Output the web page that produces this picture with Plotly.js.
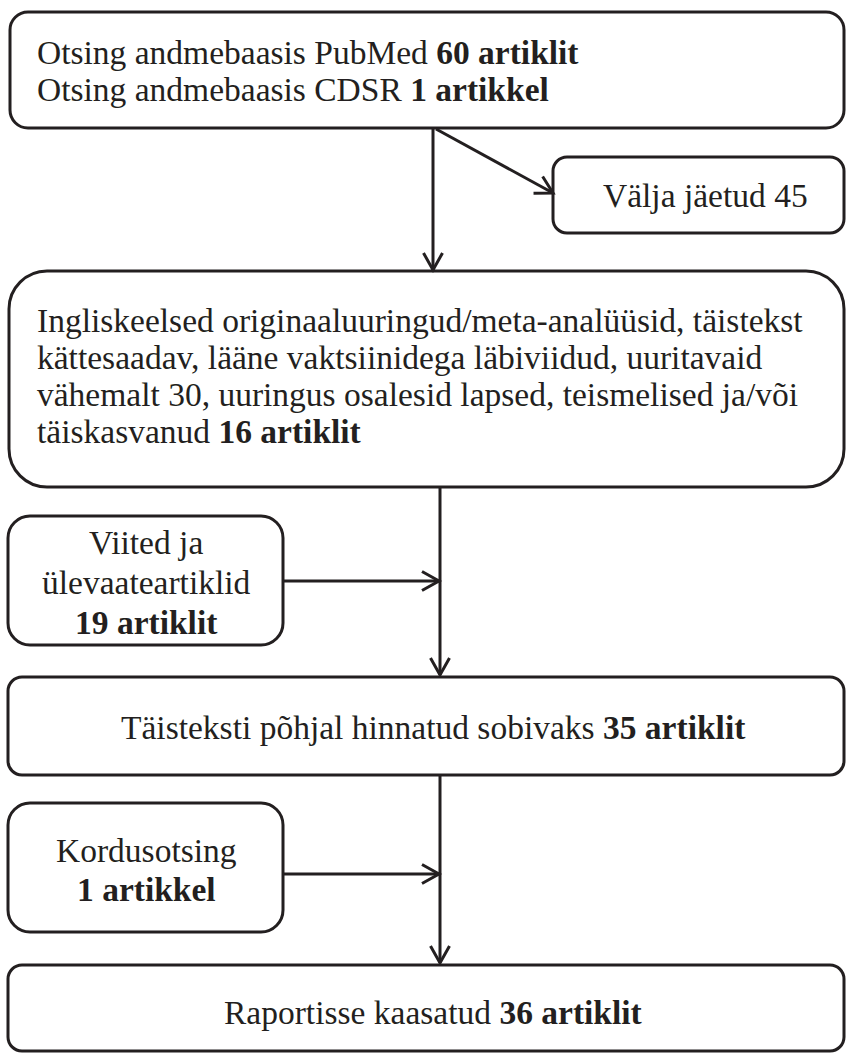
<!DOCTYPE html>
<html>
<head>
<meta charset="utf-8">
<script src="https://cdn.plot.ly/plotly-3.0.1.min.js"></script>
<style>html,body{margin:0;padding:0;background:#fff;}#chart{width:846px;height:1054px;}</style>
</head>
<body>
<div id="chart"></div>
<script>
// ---- data (texts and counts) ----
const searchLabels = ["Otsing andmebaasis PubMed", "Otsing andmebaasis CDSR"];
const searchCounts = [60, 1];
const excludedLabel = "Välja jäetud";
const excludedCount = 45;
const criteriaLines = [
  "Ingliskeelsed originaaluuringud/meta-analüüsid, täistekst",
  "kättesaadav, lääne vaktsiinidega läbiviidud, uuritavaid",
  "vähemalt 30, uuringus osalesid lapsed, teismelised ja/või",
  "täiskasvanud"
];
const criteriaCount = 16;
const referencesLines = ["Viited ja", "ülevaateartiklid"];
const referencesCount = 19;
const fulltextLabel = "Täisteksti põhjal hinnatud sobivaks";
const fulltextCount = 35;
const repeatLabel = "Kordusotsing";
const repeatCount = 1;
const finalLabel = "Raportisse kaasatud";
const finalCount = 36;

// ---- layout geometry (pixels, y downward) ----
const INK = "#231f20";
const FS = 33.5;
const FONT = "'Liberation Serif', 'Times New Roman', Times, 'DejaVu Serif', serif";
const LW = 3;

function unit(n) { return n === 1 ? "artikkel" : "artiklit"; }
function boldCount(n) { return "<b>" + n + " " + unit(n) + "</b>"; }

const boxes = [
  {x0: 10, x1: 844, y0: 12,  y1: 128, r: 18},   // search
  {x0: 553, x1: 844, y0: 157, y1: 233, r: 14},  // excluded
  {x0: 9,  x1: 844, y0: 271, y1: 487, r: 38},   // criteria
  {x0: 8,  x1: 283, y0: 516, y1: 645, r: 22},   // references
  {x0: 8,  x1: 844, y0: 677, y1: 775, r: 14},   // full text
  {x0: 8,  x1: 283, y0: 803, y1: 932, r: 22},   // repeat search
  {x0: 8,  x1: 844, y0: 965, y1: 1051, r: 14}   // final
];

const arrows = [
  [433, 128, 433, 270],
  [436, 129, 553, 193],
  [440, 487, 440, 675],
  [283, 581, 439, 581],
  [440, 775, 440, 963],
  [283, 874, 439, 874]
];

function roundRect(b) {
  const k = 0.5523 * b.r, r = b.r;
  const {x0, x1, y0, y1} = b;
  return `M${x0 + r},${y0} L${x1 - r},${y0} C${x1 - r + k},${y0} ${x1},${y0 + r - k} ${x1},${y0 + r} ` +
         `L${x1},${y1 - r} C${x1},${y1 - r + k} ${x1 - r + k},${y1} ${x1 - r},${y1} ` +
         `L${x0 + r},${y1} C${x0 + r - k},${y1} ${x0},${y1 - r + k} ${x0},${y1 - r} ` +
         `L${x0},${y0 + r} C${x0},${y0 + r - k} ${x0 + r - k},${y0} ${x0 + r},${y0} Z`;
}

const shapes = [];
boxes.forEach(b => shapes.push({
  type: "path", xref: "x", yref: "y", path: roundRect(b),
  line: {color: INK, width: LW}, fillcolor: "rgba(0,0,0,0)"
}));
arrows.forEach(a => {
  const [xa, ya, xb, yb] = a;
  shapes.push({type: "line", xref: "x", yref: "y", x0: xa, y0: ya, x1: xb, y1: yb,
    line: {color: INK, width: LW}});
  const dx = xb - xa, dy = yb - ya, L = Math.hypot(dx, dy);
  const ux = dx / L, uy = dy / L, nx = -uy, ny = ux;
  const hl = 17, hw = 9.5;
  const w1x = xb - hl * ux + hw * nx, w1y = yb - hl * uy + hw * ny;
  const w2x = xb - hl * ux - hw * nx, w2y = yb - hl * uy - hw * ny;
  shapes.push({type: "path", xref: "x", yref: "y",
    path: `M${w1x},${w1y} L${xb},${yb} L${w2x},${w2y}`,
    line: {color: INK, width: LW}});
});

const annotations = [];
function txt(text, x, y, align) {
  annotations.push({text: text, x: x, y: y, xref: "x", yref: "y",
    xanchor: align, yanchor: "middle", showarrow: false,
    font: {family: FONT, size: FS, color: INK}});
}
// search box
searchLabels.forEach((s, i) => txt(s + " " + boldCount(searchCounts[i]), 35, 52 + i * 37, "left"));
// excluded
txt(excludedLabel + " " + excludedCount, 705, 195, "center");
// criteria
criteriaLines.forEach((s, i) => {
  const last = i === criteriaLines.length - 1;
  txt(last ? s + " " + boldCount(criteriaCount) : s, 35, 320 + i * 37, "left");
});
// references
referencesLines.forEach((s, i) => txt(s, 146, 542 + i * 40, "center"));
txt(boldCount(referencesCount), 146, 622, "center");
// full text
txt(fulltextLabel + " " + boldCount(fulltextCount), 433, 727, "center");
// repeat
txt(repeatLabel, 146, 850, "center");
txt(boldCount(repeatCount), 146, 889, "center");
// final
txt(finalLabel + " " + boldCount(finalCount), 433, 1012, "center");

const layout = {
  width: 846, height: 1054,
  margin: {l: 0, r: 0, t: 0, b: 0},
  paper_bgcolor: "#ffffff", plot_bgcolor: "#ffffff",
  font: {family: FONT},
  xaxis: {range: [0, 846], visible: false, fixedrange: true},
  yaxis: {range: [1054, 0], visible: false, fixedrange: true},
  showlegend: false,
  shapes: shapes,
  annotations: annotations
};
Plotly.newPlot("chart", [], layout, {staticPlot: true, displayModeBar: false});
</script>
</body>
</html>
